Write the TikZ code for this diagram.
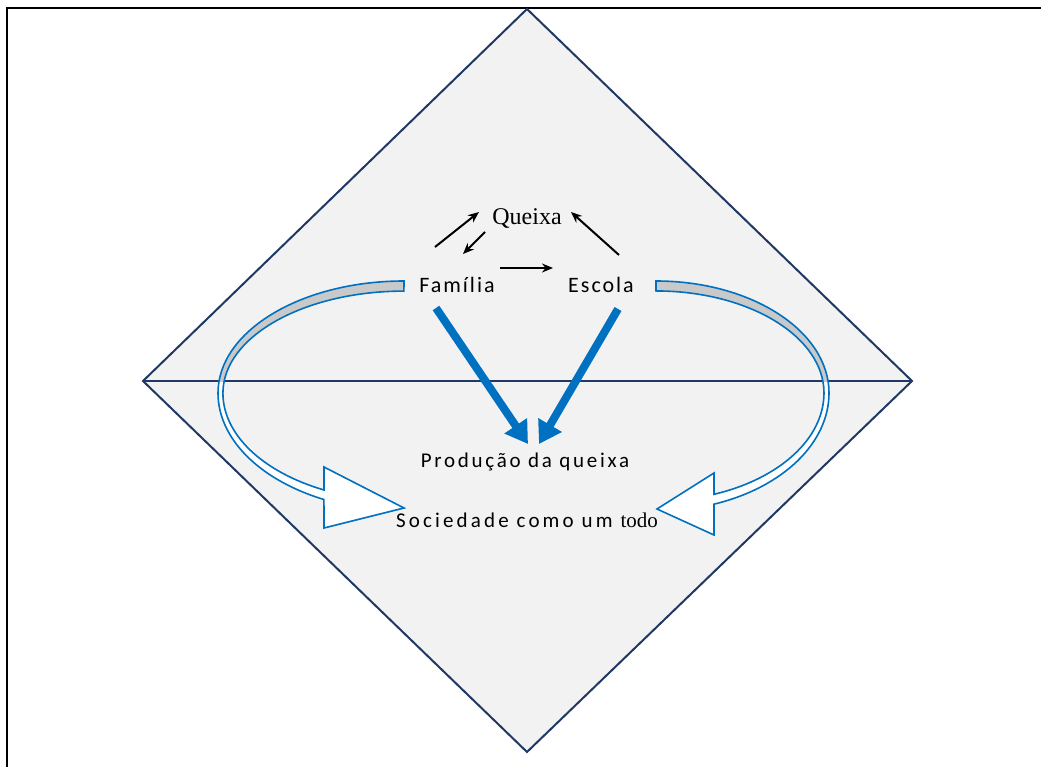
\documentclass[tikz,border=0pt]{standalone}
\usepackage{fontspec}
\setmainfont{Carlito}
\newfontfamily\serifA{Liberation Serif}
\newfontfamily\calA[LetterSpace=9]{Carlito}
\newfontfamily\calB[LetterSpace=13]{Carlito}
\newfontfamily\calC[LetterSpace=15]{Carlito}
\usetikzlibrary{arrows.meta}
\definecolor{navy}{HTML}{1F3864}
\definecolor{paleg}{HTML}{F2F2F2}
\definecolor{blueA}{HTML}{0070C0}
\definecolor{bandg}{HTML}{C9C9C9}
\tikzset{
  frameline/.style={line width=2pt,black},
  diamondline/.style={line width=2pt,draw=navy},
  smallarrow/.style={line width=2pt,-{Stealth[length=11pt,width=9pt]}},
  bigarrow/.style={line width=8pt,blueA,-{Triangle[length=22pt,width=26pt]}},
  curvedarrow/.style={draw=blueA,line width=1.6pt,line join=miter},
  lbl/.style={inner sep=0pt,anchor=base,font=\calA\fontsize{22}{24}\selectfont},
}
\def\leftcurve{(404,281) arc[start angle=270,end angle=180,x radius=186,y radius=112]
  arc[start angle=180,end angle=115.5,x radius=186,y radius=118]
  -- (324,528) -- (404,508) -- (324,467) -- (324,490)
  arc[start angle=116.2,end angle=180,x radius=181,y radius=108]
  arc[start angle=180,end angle=270,x radius=181,y radius=102] -- cycle}
\def\rightcurve{(656,281) arc[start angle=270,end angle=360,x radius=173,y radius=112]
  arc[start angle=0,end angle=70.4,x radius=173,y radius=118]
  -- (714,535) -- (657,509) -- (714,473) -- (714,494.3)
  arc[start angle=69.8,end angle=0,x radius=168,y radius=108]
  arc[start angle=0,end angle=-90,x radius=168,y radius=102] -- cycle}
\begin{document}
\begin{tikzpicture}[x=1pt,y=-1pt]
\useasboundingbox (0,0) rectangle (1041,767);
% frame
\draw[frameline] (7,767) -- (7,8) -- (1041,8);
% diamond
\node[coordinate] (dT) at (527,9) {};
\node[coordinate] (dL) at (143,381) {};
\node[coordinate] (dR) at (912,381) {};
\node[coordinate] (dB) at (527,752) {};
\filldraw[diamondline,fill=paleg] (dT) -- (dR) -- (dB) -- (dL) -- cycle;
\draw[diamondline] (dL) -- (dR);
% curved arrows
\fill[white] \leftcurve;
\begin{scope}\clip (0,0) rectangle (1041,381); \fill[bandg] \leftcurve; \end{scope}
\draw[curvedarrow] \leftcurve;
\fill[white] \rightcurve;
\begin{scope}\clip (0,0) rectangle (1041,381); \fill[bandg] \rightcurve; \end{scope}
\draw[curvedarrow] \rightcurve;
% labels
\node[inner sep=0pt,anchor=base,font=\serifA\fontsize{24}{26}\selectfont] (queixa) at (527,225) {Queixa};
\node[lbl] (familia) at (457,292) {Família};
\node[lbl] (escola) at (601,292) {Escola};
\node[inner sep=0pt,anchor=base,font=\calB\fontsize{21}{24}\selectfont] (producao) at (525,467) {Produção da queixa};
\node[inner sep=0pt,anchor=base,font=\calC\fontsize{21}{24}\selectfont] (sociedade) at (527,527) {Sociedade como um {\serifA todo}};
% small arrows
\coordinate (a1s) at (435,247); \coordinate (a1e) at (479,212);
\coordinate (a2s) at (485,232); \coordinate (a2e) at (463,254);
\coordinate (a3s) at (500,268); \coordinate (a3e) at (553,268);
\coordinate (a4s) at (619,255); \coordinate (a4e) at (571,212);
\draw[smallarrow] (a1s) -- (a1e);
\draw[smallarrow] (a2s) -- (a2e);
\draw[smallarrow] (a3s) -- (a3e);
\draw[smallarrow] (a4s) -- (a4e);
% big arrows
\coordinate (b1s) at (436,308); \coordinate (b1e) at (528,444);
\coordinate (b2s) at (618,309); \coordinate (b2e) at (539,444);
\draw[bigarrow] (b1s) -- (b1e);
\draw[bigarrow] (b2s) -- (b2e);
\end{tikzpicture}
\end{document}
